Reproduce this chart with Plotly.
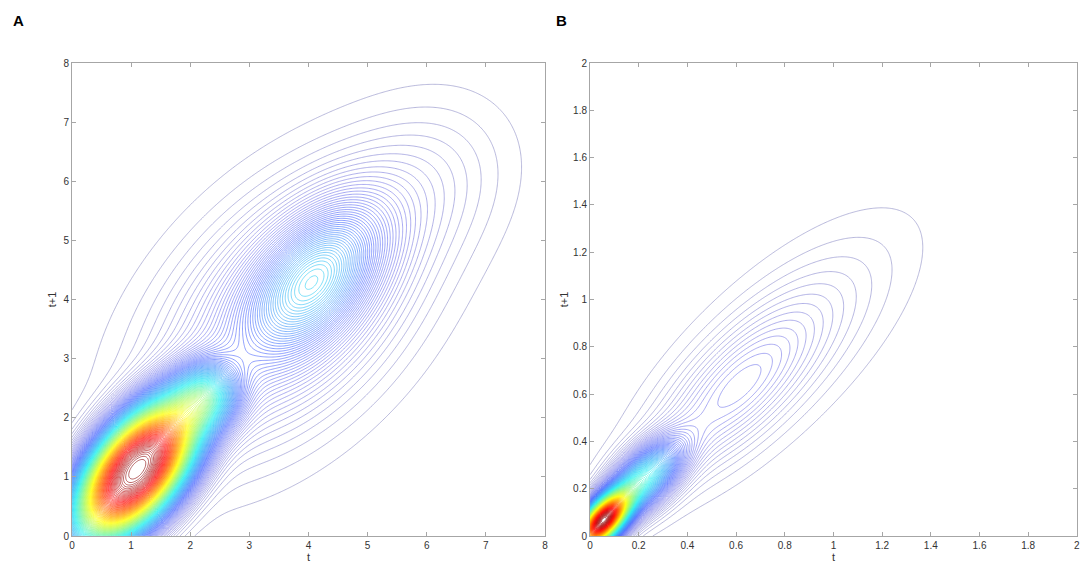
import numpy as np
import plotly.graph_objects as go

# panel A: density components
# (centre, tilt of the ridge, spread along / across it, height, flatness of the top)
a_cx = [1.08, 2.28, 4.12, 3.65, 6.0]
a_cy = [1.1, 2.34, 4.38, 3.8, 6.0]
a_angle = [52, 56, 50, 46, 42]
a_sd_par = [1.0, 0.4, 0.95, 1.7, 1.0]
a_sd_perp = [0.52, 0.36, 0.55, 1.0, 0.8]
a_amp = [0.85, 0.2, 0.18, 0.12, 0.02]
a_flat = [1.25, 1.0, 1.0, 1.0, 1.0]

# panel B
b_cx = [0.05, 0.22, 0.58, 0.78]
b_cy = [0.06, 0.24, 0.6, 0.8]
b_angle = [50, 46, 46, 45]
b_sd_par = [0.1, 0.13, 0.3, 0.42]
b_sd_perp = [0.05, 0.068, 0.12, 0.17]
b_amp = [0.75, 0.28, 0.06, 0.03]
b_flat = [1.0, 1.0, 1.0, 1.0]

a_ticks = [0, 1, 2, 3, 4, 5, 6, 7, 8]
b_ticks = [0, 0.2, 0.4, 0.6, 0.8, 1, 1.2, 1.4, 1.6, 1.8, 2]
b_ticktext = ["0", "0.2", "0.4", "0.6", "0.8", "1", "1.2", "1.4", "1.6", "1.8", "2"]

n_levels = 140

jet = [[0, "#8a8ac2"], [0.08, "#7474e8"], [0.18, "#3c5cff"], [0.375, "#20f0f0"],
       [0.625, "#ffff00"], [0.875, "#ff0000"], [1, "#800000"]]

W, H = 1084, 572


def px_x(p):
    return p / W


def px_y(p):
    return 1 - p / H


def density(x, y, cx, cy, angle, sd_par, sd_perp, amp, flat):
    X, Y = np.meshgrid(x, y)
    z = np.zeros_like(X)
    for i in range(len(cx)):
        th = np.deg2rad(angle[i])
        dx, dy = X - cx[i], Y - cy[i]
        u = dx * np.cos(th) + dy * np.sin(th)
        v = -dx * np.sin(th) + dy * np.cos(th)
        q = 0.5 * ((u / sd_par[i]) ** 2 + (v / sd_perp[i]) ** 2)
        z += amp[i] * np.exp(-q ** flat[i])
    return z


xa = np.linspace(0, 8, 401)
za = density(xa, xa, a_cx, a_cy, a_angle, a_sd_par, a_sd_perp, a_amp, a_flat)
xb = np.linspace(0, 2, 401)
zb = density(xb, xb, b_cx, b_cy, b_angle, b_sd_par, b_sd_perp, b_amp, b_flat)

fig = go.Figure()
for z, x, ax in [(za, xa, "x"), (zb, xb, "x2")]:
    top = z.max()
    step = top / n_levels
    fig.add_trace(go.Contour(
        x=x, y=x, z=z,
        xaxis=ax, yaxis=ax.replace("x", "y"),
        colorscale=jet, zmin=0, zmax=top,
        contours=dict(coloring="lines", start=step, end=top, size=step),
        line=dict(width=0.6),
        showscale=False, hoverinfo="skip",
    ))

axis_style = dict(showline=True, mirror="ticks", linecolor="#a6a6a6", linewidth=1,
                  ticks="inside", ticklen=4, tickcolor="#a6a6a6",
                  showgrid=False, zeroline=False, automargin=False,
                  tickfont=dict(size=10, color="#333333"),
                  title_font=dict(size=11, color="#333333"))

y_dom = [px_y(536), px_y(63)]

fig.update_layout(
    width=W, height=H,
    margin=dict(l=0, r=0, t=0, b=0),
    paper_bgcolor="white", plot_bgcolor="white",
    font=dict(family="Liberation Sans, Arial", color="#333333"),
    xaxis=dict(axis_style, domain=[px_x(72), px_x(545)], range=[0, 8], tickvals=a_ticks,
               title=dict(text="t", standoff=2)),
    yaxis=dict(axis_style, domain=y_dom, range=[0, 8], tickvals=a_ticks,
               title=dict(text="t+1", standoff=4)),
    xaxis2=dict(axis_style, domain=[px_x(590), px_x(1077)], range=[0, 2.0005], tickvals=b_ticks,
                ticktext=b_ticktext, anchor="y2", title=dict(text="t", standoff=2)),
    yaxis2=dict(axis_style, domain=y_dom, range=[0, 2.0005], tickvals=b_ticks,
                ticktext=b_ticktext, anchor="x2", title=dict(text="t+1", standoff=2)),
    annotations=[
        dict(text="<b>A</b>", x=px_x(18), y=px_y(20), xref="paper", yref="paper",
             showarrow=False, xanchor="center", yanchor="middle", font=dict(size=15, color="black")),
        dict(text="<b>B</b>", x=px_x(561), y=px_y(20), xref="paper", yref="paper",
             showarrow=False, xanchor="center", yanchor="middle", font=dict(size=15, color="black")),
    ],
)

# drop the default body margin so the figure fills the window exactly
fig.write_html("out.html", config={"displayModeBar": False},
               post_script="document.body.style.margin='0';")
